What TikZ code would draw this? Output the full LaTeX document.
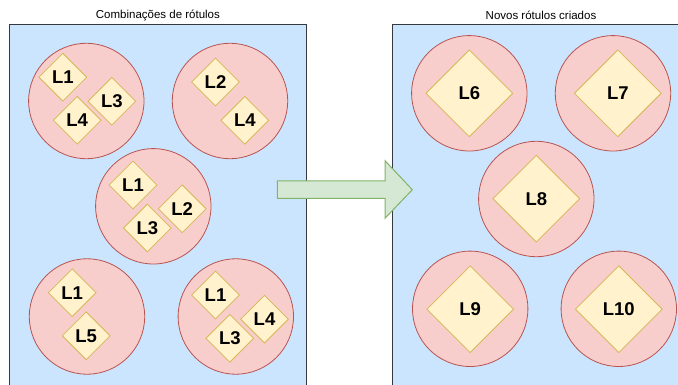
\documentclass[tikz,border=0pt]{standalone}
\usepackage{fontspec}
\setmainfont{Liberation Sans}
\usetikzlibrary{shapes.geometric}
\definecolor{panelfill}{HTML}{CCE5FF}
\definecolor{panelline}{HTML}{36393D}
\definecolor{circfill}{HTML}{F8CECC}
\definecolor{circline}{HTML}{B85450}
\definecolor{diafill}{HTML}{FFF2CC}
\definecolor{dialine}{HTML}{D6B656}
\definecolor{arrfill}{HTML}{D5E8D4}
\definecolor{arrline}{HTML}{82B366}
\tikzset{
  panel/.style={fill=panelfill,draw=panelline,line width=1pt},
  grp/.style={circle,fill=circfill,draw=circline,line width=0.8pt,minimum size=115.4pt,inner sep=0pt},
  lab/.style={diamond,aspect=1,fill=diafill,draw=dialine,line width=0.8pt,inner sep=0pt,minimum width=48pt,minimum height=48pt,font=\fontsize{18.5}{18.5}\selectfont\bfseries},
  biglab/.style={lab,minimum width=87pt,minimum height=87pt},
  ttl/.style={font=\fontsize{11.5}{11.5}\selectfont,inner sep=0pt},
  blockarrow/.style={fill=arrfill,draw=arrline,line width=1pt,line join=miter}
}
\begin{document}
\begin{tikzpicture}[x=1pt,y=-1pt]
\useasboundingbox (0,0) rectangle (678,385);
% panels
\draw[panel] (9.5,24.5) rectangle (306.3,390);
\draw[panel] (392.7,24.5) rectangle (689.5,390);
\node[ttl] (t1) at (157.9,15) {Combinações de rótulos};
\node[ttl] (t2) at (541,15) {Novos rótulos criados};
% block arrow
\draw[blockarrow] (277.3,181) -- (385,181) -- (385,160.7) -- (412.3,189.7) -- (385,218.3) -- (385,198.3) -- (277.3,198.3) -- cycle;
% left groups
\node[grp] (c1) at (86.3,101) {};
\node[grp] (c2) at (230,101) {};
\node[grp] (c3) at (153.3,206.3) {};
\node[grp] (c4) at (87,316.5) {};
\node[grp] (c5) at (235.8,316.5) {};
% left labels
\node[lab] (a1) at (62.8,77.2) {L1};
\node[lab] (a4) at (77.2,120.3) {L4};
\node[lab] (a3) at (111.8,101.3) {L3};
\node[lab] (b2) at (215.5,82) {L2};
\node[lab] (b4) at (244.8,120.3) {L4};
\node[lab] (d1) at (133,185) {L1};
\node[lab] (d3) at (147.3,228) {L3};
\node[lab] (d2) at (182.2,208.8) {L2};
\node[lab] (e1) at (72.2,292.7) {L1};
\node[lab] (e5) at (86.2,335.8) {L5};
\node[lab] (f1) at (215.5,295) {L1};
\node[lab] (f3) at (229.8,338.3) {L3};
\node[lab] (f4) at (264.5,319.2) {L4};
% right groups
\node[grp] (c6) at (469.3,93.3) {};
\node[grp] (c7) at (613,93.3) {};
\node[grp] (c8) at (536.3,199) {};
\node[grp] (c9) at (470.2,308.8) {};
\node[grp] (c10) at (618.8,308.8) {};
\node[biglab] (g6) at (469.3,93.3) {L6};
\node[biglab] (g7) at (617.8,93.3) {L7};
\node[biglab] (g8) at (536.3,198.7) {L8};
\node[biglab] (g9) at (470.2,309.2) {L9};
\node[biglab] (g10) at (618.8,309.2) {L10};
\end{tikzpicture}
\end{document}
